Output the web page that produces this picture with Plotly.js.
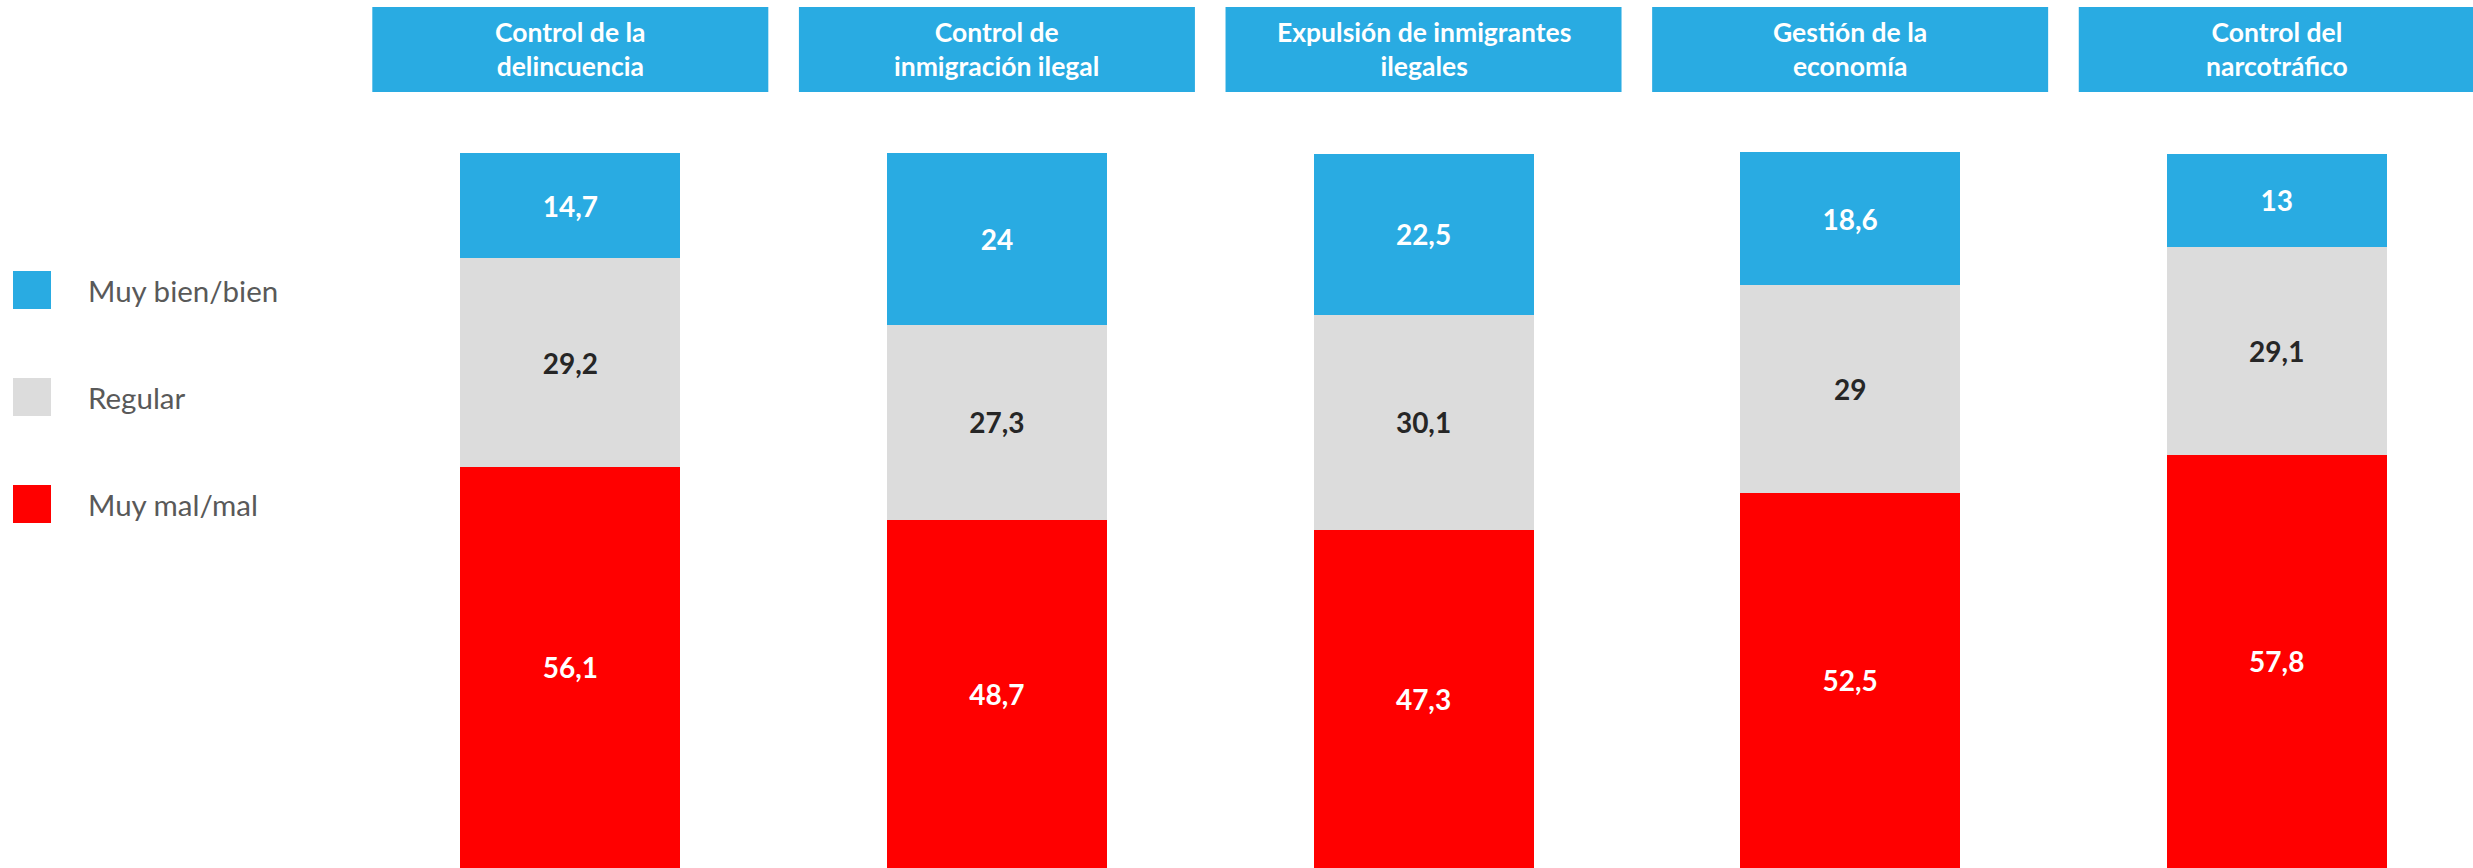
<!DOCTYPE html>
<html>
<head>
<meta charset="utf-8">
<script src="https://cdn.plot.ly/plotly-3.0.1.min.js"></script>
<style>html,body{margin:0;padding:0;background:#fff;}#chart{width:2473px;height:868px;}</style>
</head>
<body>
<div id="chart"></div>
<script>
const categories = ["Control de la delincuencia", "Control de inmigración ilegal", "Expulsión de inmigrantes ilegales", "Gestión de la economía", "Control del narcotráfico"];
const headerLabels = ["Control de la<br>delincuencia", "Control de<br>inmigración ilegal", "Expulsión de inmigrantes<br>ilegales", "Gestión de la<br>economía", "Control del<br>narcotráfico"];
const seriesNames = ["Muy mal/mal", "Regular", "Muy bien/bien"];
const muyMal = [56.1, 48.7, 47.3, 52.5, 57.8];
const regular = [29.2, 27.3, 30.1, 29.0, 29.1];
const muyBien = [14.7, 24, 22.5, 18.6, 13];
const seriesColors = ["#FF0000", "#DCDCDC", "#29ABE2"];
const labelColors = ["#FFFFFF", "#262626", "#FFFFFF"];
const seriesValues = [muyMal, regular, muyBien];

const FONT = "Lato, 'Open Sans', sans-serif";
const W = 2473, H = 868, L = 357;
const xRange = [-0.5, 4.46];
const pxPerUnit = (W - L) / (xRange[1] - xRange[0]);
const toPaperX = px => (px - L) / (W - L);
const toPaperY = py => 1 - py / H;

const traces = seriesValues.map((vals, i) => ({
  type: 'bar',
  name: seriesNames[i],
  x: categories,
  y: vals,
  marker: {color: seriesColors[i], line: {width: 0}},
  texttemplate: '%{y}',
  textposition: 'inside',
  insidetextanchor: 'middle',
  constraintext: 'none',
  textangle: 0,
  textfont: {family: FONT, size: 28, color: labelColors[i], weight: 'bold'},
  hoverinfo: 'skip',
  showlegend: false
}));

const shapes = [];
const annotations = [];
const halfHeader = 198 / pxPerUnit;
categories.forEach((c, i) => {
  shapes.push({type: 'rect', xref: 'x', yref: 'paper', x0: i - halfHeader, x1: i + halfHeader,
    y0: toPaperY(92), y1: toPaperY(7), fillcolor: '#29ABE2', line: {width: 0}, layer: 'above'});
  annotations.push({xref: 'x', yref: 'paper', x: i, y: toPaperY(49), text: headerLabels[i],
    showarrow: false, xanchor: 'center', yanchor: 'middle',
    font: {family: FONT, size: 26.5, color: '#FFFFFF', weight: 'bold'}});
});

// legend (top to bottom: Muy bien/bien, Regular, Muy mal/mal)
const legendOrder = [2, 1, 0];
const legendCenters = [290, 397, 504];
legendOrder.forEach((si, k) => {
  const cy = legendCenters[k];
  shapes.push({type: 'rect', xref: 'paper', yref: 'paper', x0: toPaperX(13), x1: toPaperX(51),
    y0: toPaperY(cy + 19), y1: toPaperY(cy - 19), fillcolor: seriesColors[si], line: {width: 0}});
  annotations.push({xref: 'paper', yref: 'paper', x: toPaperX(86), y: toPaperY(cy), text: seriesNames[si],
    showarrow: false, xanchor: 'left', yanchor: 'middle',
    font: {family: FONT, size: 29.5, color: '#595959'}});
});

const layout = {
  width: W, height: H,
  margin: {l: L, r: 0, t: 0, b: 0, pad: 0},
  paper_bgcolor: '#FFFFFF', plot_bgcolor: '#FFFFFF',
  barmode: 'stack',
  bargap: 1 - 220 / pxPerUnit,
  separators: ',.',
  showlegend: false,
  xaxis: {type: 'category', range: xRange, showticklabels: false, showgrid: false, zeroline: false, showline: false, ticks: '', fixedrange: true},
  yaxis: {range: [0, H / 7.15], showticklabels: false, showgrid: false, zeroline: false, showline: false, ticks: '', fixedrange: true},
  shapes: shapes,
  annotations: annotations,
  font: {family: FONT}
};

Plotly.newPlot('chart', traces, layout, {displayModeBar: false, staticPlot: true});
</script>
</body>
</html>
